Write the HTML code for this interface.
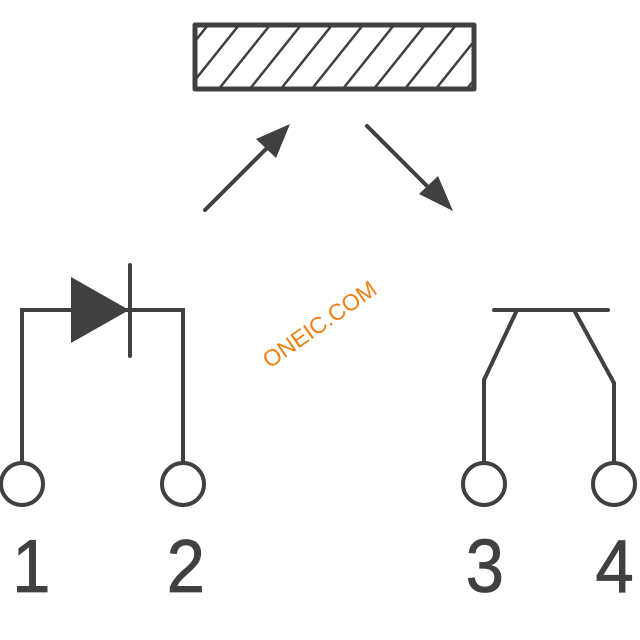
<!DOCTYPE html>
<html><head><style>body{margin:0;background:#fff}svg{display:block}</style></head><body>
<svg width="640" height="640" viewBox="0 0 640 640" xmlns="http://www.w3.org/2000/svg">
<defs><clipPath id="c"><rect x="196" y="26" width="276" height="62"/></clipPath></defs>
<g stroke="#404040" stroke-width="4" fill="none" stroke-linecap="round">
<g clip-path="url(#c)" stroke-width="2.5">
<line x1="140" y1="110" x2="220" y2="10"/><line x1="171" y1="110" x2="251" y2="10"/>
<line x1="202" y1="110" x2="282" y2="10"/><line x1="233" y1="110" x2="313" y2="10"/>
<line x1="264" y1="110" x2="344" y2="10"/><line x1="295" y1="110" x2="375" y2="10"/>
<line x1="326" y1="110" x2="406" y2="10"/><line x1="357" y1="110" x2="437" y2="10"/>
<line x1="388" y1="110" x2="468" y2="10"/><line x1="419" y1="110" x2="499" y2="10"/>
<line x1="450" y1="110" x2="530" y2="10"/>
</g>
<rect x="195" y="25" width="279" height="64" stroke-width="5" stroke-linejoin="round"/>
<line x1="205" y1="210" x2="270" y2="145"/>
<line x1="367" y1="126" x2="432" y2="191"/>
<polyline points="22,462 22,310 183,310 183,462" stroke-linecap="butt" stroke-linejoin="miter"/>
<line x1="130" y1="265" x2="130" y2="356"/>
<polyline points="484,462 484,380 517,310" stroke-linecap="butt"/>
<polyline points="614,462 614,383 574,310" stroke-linecap="butt"/>
<line x1="494" y1="310" x2="608" y2="310"/>
<circle cx="22" cy="484" r="21"/><circle cx="183" cy="484" r="21"/>
<circle cx="484" cy="484" r="21"/><circle cx="614" cy="484" r="21"/>
</g>
<g fill="#404040">
<polygon points="290,124 256,139 276,158"/>
<polygon points="453,211 419,194 438,176"/>
<polygon points="71,277 71,343 129,310"/>
</g>
<g font-family="Liberation Sans, sans-serif" font-size="75" fill="#404040" text-anchor="middle" transform="scale(0.92 1)" stroke="#404040" stroke-width="0.8">
<text x="34" y="592">1</text><text x="202" y="592">2</text>
<text x="527" y="592">3</text><text x="668" y="592">4</text>
</g>
<text x="320" y="332" transform="rotate(-35 320 325)" font-family="Liberation Sans, sans-serif" font-size="23" fill="#f07f12" text-anchor="middle">ONEIC.COM</text>
</svg>
</body></html>
